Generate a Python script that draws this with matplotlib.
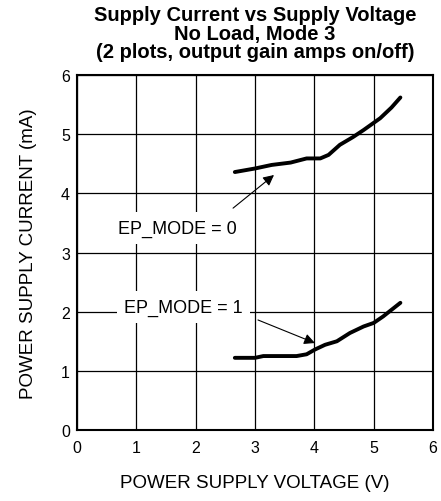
import numpy as np
import matplotlib.pyplot as plt

plt.rcParams['font.family'] = ['Liberation Sans', 'DejaVu Sans']

# EP_MODE = 0 (output gain amps on)
v_mode0 = [2.66, 3.0, 3.28, 3.6, 3.87, 4.1, 4.24, 4.43, 4.65, 4.83, 5.11, 5.3, 5.45]
i_mode0 = [4.36, 4.42, 4.48, 4.52, 4.59, 4.59, 4.65, 4.82, 4.95, 5.07, 5.27, 5.45, 5.62]

# EP_MODE = 1 (output gain amps off)
v_mode1 = [2.66, 3.0, 3.14, 3.7, 3.87, 4.01, 4.18, 4.38, 4.6, 4.83, 5.0, 5.16, 5.45]
i_mode1 = [1.22, 1.22, 1.25, 1.25, 1.28, 1.36, 1.44, 1.5, 1.64, 1.75, 1.81, 1.92, 2.15]

fig = plt.figure(figsize=(4.41, 5.02), dpi=100)
ax = fig.add_axes([0.1746, 0.1414, 0.8073, 0.7072])

ax.plot(v_mode0, i_mode0, color='black', lw=2.8, solid_capstyle='round')
ax.plot(v_mode1, i_mode1, color='black', lw=2.8, solid_capstyle='round')

ax.set_xlim(0, 6)
ax.set_ylim(0, 6)
ax.set_xticks(range(7))
ax.set_yticks(range(7))
ax.tick_params(length=0, labelsize=11.5)
ax.tick_params(axis='x', pad=7)
ax.tick_params(axis='y', pad=5)
ax.grid(True, color='black', lw=0.9)
for s in ax.spines.values():
    s.set_linewidth(1.5)

ax.set_xlabel('POWER SUPPLY VOLTAGE (V)', fontsize=13.5, labelpad=14)
ax.set_ylabel('POWER SUPPLY CURRENT (mA)', fontsize=13.5, labelpad=17)
ax.set_title('Supply Current vs Supply Voltage\nNo Load, Mode 3\n(2 plots, output gain amps on/off)',
             fontsize=14.5, fontweight='bold', linespacing=0.95, pad=13)

box = dict(boxstyle='square,pad=0.4', fc='white', ec='none')
arrow = dict(arrowstyle='-|>', color='black', lw=0.8, mutation_scale=16, shrinkA=0, shrinkB=0)
ax.text(1.70, 3.41, 'EP_MODE = 0', fontsize=13, ha='center', va='center', bbox=box)
ax.annotate('', xy=(3.32, 4.31), xytext=(2.63, 3.75), arrowprops=arrow)
ax.text(1.79, 2.08, 'EP_MODE = 1', fontsize=13, ha='center', va='center', bbox=box)
ax.annotate('', xy=(4.01, 1.47), xytext=(3.05, 1.86), arrowprops=arrow)

fig.savefig('out.png', dpi=100)
